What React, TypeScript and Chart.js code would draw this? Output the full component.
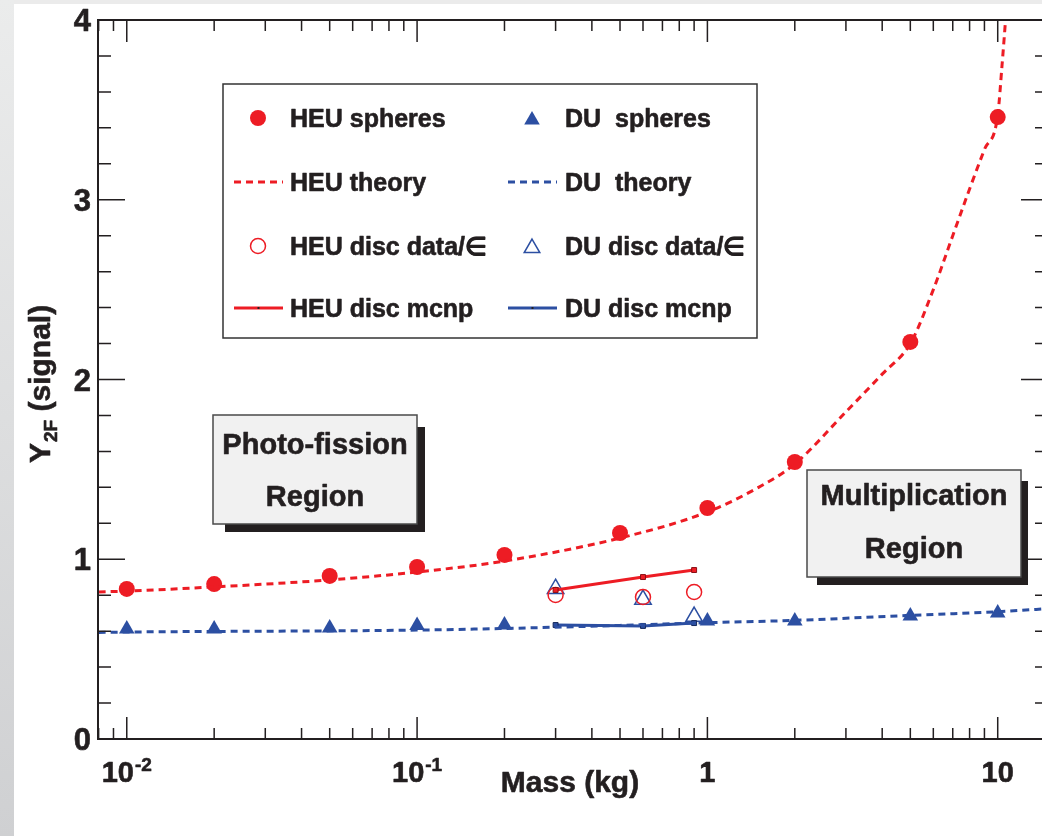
import React, { useEffect, useRef } from "react";
import { Chart, registerables } from "chart.js";

Chart.register(...registerables);

const RED = "#ed1c24";
const BLUE = "#2c4fa2";
const INK = "#231f20";
const FONT = '"Liberation Sans", Arial, Helvetica, sans-serif';

// ---- data ----
const heuSphereMass = [0.01, 0.02, 0.05, 0.1, 0.2, 0.5, 1, 2, 5, 10];
const heuSphereY = [0.835, 0.862, 0.907, 0.957, 1.024, 1.146, 1.285, 1.541, 2.209, 3.46];
const duSphereMass = [0.01, 0.02, 0.05, 0.1, 0.2, 1, 2, 5, 10];
const duSphereY = [0.612, 0.612, 0.618, 0.632, 0.634, 0.656, 0.656, 0.684, 0.701];
const heuTheoryMass = [0.008, 0.01, 0.02, 0.05, 0.1, 0.2, 0.5, 1, 1.5, 2, 3, 4, 5, 6, 7, 8, 9, 10, 10.35, 10.7];
const heuTheoryY = [0.818, 0.823, 0.846, 0.885, 0.929, 0.99, 1.118, 1.263, 1.4, 1.53, 1.82, 2.03, 2.2, 2.5, 2.8, 3.06, 3.28, 3.47, 3.75, 4.05];
const duTheoryMass = [0.008, 0.01, 0.1, 0.2, 0.5, 1, 2, 5, 10, 14.9];
const duTheoryY = [0.593, 0.595, 0.606, 0.615, 0.632, 0.647, 0.66, 0.688, 0.708, 0.725];
const discMass = [0.3, 0.6, 0.9];
const heuDiscDataY = [0.801, 0.79, 0.818];
const duDiscDataY = [0.836, 0.776, 0.681];
const heuDiscMcnpY = [0.829, 0.901, 0.94];
const duDiscMcnpY = [0.634, 0.629, 0.645];

const X_MIN = 0.00796;
const X_MAX = 14.9;
const Y_MIN = 0;
const Y_MAX = 4;
const yTickValues = [0, 1, 2, 3, 4];
const yTickLabels = ["0", "1", "2", "3", "4"];
const xTickValues = [0.01, 0.1, 1, 10];
const xTickBases = ["10", "10", "1", "10"];
const xTickExps = ["-2", "-1", "", ""];
const xTitle = "Mass (kg)";
const yTitleMain = "Y";
const yTitleSub = "2F";
const yTitleRest = " (signal)";
const legendCol1 = ["HEU spheres", "HEU theory", "HEU disc data/\u2208", "HEU disc mcnp"];
const legendCol2 = ["DU  spheres", "DU  theory", "DU disc data/\u2208", "DU disc mcnp"];
const regionLeft = ["Photo-fission", "Region"];
const regionRight = ["Multiplication", "Region"];

const pts = (xs: number[], ys: number[]) => xs.map((x, i) => ({ x, y: ys[i] }));

// bold text with a hairline stroke to mimic the heavier original face
function boldText(ctx: CanvasRenderingContext2D, t: string, x: number, y: number) {
  ctx.save();
  ctx.setLineDash([]);
  ctx.lineWidth = 0.6;
  ctx.strokeStyle = ctx.fillStyle as string;
  ctx.lineJoin = "round";
  ctx.strokeText(t, x, y);
  ctx.fillText(t, x, y);
  ctx.restore();
}

function triPath(ctx: CanvasRenderingContext2D, x: number, y: number, r: number) {
  const h = r * Math.sin(Math.PI / 3);
  ctx.beginPath();
  ctx.moveTo(x, y - r);
  ctx.lineTo(x + h, y + r / 2);
  ctx.lineTo(x - h, y + r / 2);
  ctx.closePath();
}

function drawRegion(
  ctx: CanvasRenderingContext2D,
  x1: number, y1: number, x2: number, y2: number,
  sh: [number, number, number, number],
  lines: string[], baselines: number[]
) {
  ctx.fillStyle = INK;
  ctx.fillRect(x1 + sh[0], y1 + sh[1], x2 + sh[2] - (x1 + sh[0]), y2 + sh[3] - (y1 + sh[1]));
  ctx.fillStyle = "#f1f1f1";
  ctx.fillRect(x1, y1, x2 - x1, y2 - y1);
  ctx.strokeStyle = "#4a4a4a";
  ctx.lineWidth = 1.5;
  ctx.setLineDash([]);
  ctx.strokeRect(x1, y1, x2 - x1, y2 - y1);
  ctx.fillStyle = INK;
  ctx.font = `bold 29px ${FONT}`;
  ctx.textAlign = "center";
  ctx.textBaseline = "alphabetic";
  const cx = (x1 + x2) / 2;
  lines.forEach((t, i) => boldText(ctx, t, cx, baselines[i]));
}

const overlay = {
  id: "overlay",
  beforeDraw(chart: any) {
    const { ctx, width, height } = chart;
    ctx.save();
    ctx.fillStyle = "#ffffff";
    ctx.fillRect(0, 0, width, height);
    const g = ctx.createLinearGradient(0, 0, 0, height);
    g.addColorStop(0, "#ebecec");
    g.addColorStop(1, "#cfd0d2");
    ctx.fillStyle = g;
    ctx.fillRect(0, 0, 14, height);
    ctx.fillStyle = "#ebebeb";
    ctx.fillRect(14, 0, width, 4);
    ctx.restore();
  },
  afterDatasetsDraw(chart: any) {
    const { ctx } = chart;
    const { left, top, right, bottom } = chart.chartArea;
    const xs = chart.scales.x;
    const ys = chart.scales.y;
    ctx.save();
    ctx.setLineDash([]);
    ctx.strokeStyle = INK;
    ctx.lineWidth = 2;
    ctx.strokeRect(left, top, right - left, bottom - top);

    // y ticks (left + right)
    ctx.lineWidth = 1.5;
    ctx.beginPath();
    for (let i = 0; i <= 20; i++) {
      const v = Y_MIN + i * 0.2;
      const p = ys.getPixelForValue(v);
      const len = i % 5 === 0 ? 27 : 13;
      ctx.moveTo(left, p);
      ctx.lineTo(left + len, p);
      ctx.moveTo(right, p);
      ctx.lineTo(right - len, p);
    }
    // x ticks (bottom + top)
    for (let d = -3; d <= 1; d++) {
      for (let k = 1; k <= 9; k++) {
        const v = k * Math.pow(10, d);
        if (v < X_MIN || v > X_MAX) continue;
        const p = xs.getPixelForValue(v);
        const len = k === 1 ? 22 : 11;
        ctx.moveTo(p, bottom);
        ctx.lineTo(p, bottom - len);
        ctx.moveTo(p, top);
        ctx.lineTo(p, top + len);
      }
    }
    ctx.stroke();

    // y tick labels
    ctx.fillStyle = INK;
    ctx.font = `bold 31px ${FONT}`;
    ctx.textAlign = "right";
    ctx.textBaseline = "alphabetic";
    yTickValues.forEach((v, i) => {
      const p = ys.getPixelForValue(v);
      boldText(ctx, yTickLabels[i], 91, p + 11);
    });

    // x tick labels
    xTickValues.forEach((v, i) => {
      const p = xs.getPixelForValue(v);
      ctx.font = `bold 29px ${FONT}`;
      const wb = ctx.measureText(xTickBases[i]).width;
      ctx.font = `bold 19px ${FONT}`;
      const we = xTickExps[i] ? ctx.measureText(xTickExps[i]).width + 1 : 0;
      const sx = p - (wb + we) / 2;
      ctx.textAlign = "left";
      ctx.font = `bold 29px ${FONT}`;
      boldText(ctx, xTickBases[i], sx, 782);
      if (xTickExps[i]) {
        ctx.font = `bold 19px ${FONT}`;
        boldText(ctx, xTickExps[i], sx + wb + 1, 771);
      }
    });

    // x title
    ctx.font = `bold 30px ${FONT}`;
    ctx.textAlign = "center";
    boldText(ctx, xTitle, 570, 792);

    // y title
    ctx.save();
    ctx.translate(50, 463);
    ctx.rotate(-Math.PI / 2);
    ctx.textAlign = "left";
    ctx.font = `bold 30px ${FONT}`;
    boldText(ctx, yTitleMain, 0, 0);
    const w1 = ctx.measureText(yTitleMain).width;
    ctx.font = `bold 19px ${FONT}`;
    boldText(ctx, yTitleSub, w1 + 1, 7);
    const w2 = ctx.measureText(yTitleSub).width;
    ctx.font = `bold 30px ${FONT}`;
    boldText(ctx, yTitleRest, w1 + 1 + w2, 0);
    ctx.restore();

    // legend box
    ctx.strokeStyle = "#333333";
    ctx.lineWidth = 1.5;
    ctx.strokeRect(223, 84, 534, 254);
    const rows = [118, 182, 246, 308];
    const cols = [
      { sx: 258, l1: 234, l2: 283, tx: 290, color: RED, labels: legendCol1, tri: false },
      { sx: 532, l1: 508, l2: 557, tx: 565, color: BLUE, labels: legendCol2, tri: true },
    ];
    cols.forEach((c) => {
      ctx.fillStyle = c.color;
      if (c.tri) {
        triPath(ctx, c.sx, rows[0] + 2, 9);
        ctx.fill();
      } else {
        ctx.beginPath();
        ctx.arc(c.sx, rows[0], 8, 0, Math.PI * 2);
        ctx.fill();
      }
      ctx.strokeStyle = c.color;
      ctx.lineWidth = 3;
      ctx.setLineDash([7, 5]);
      ctx.beginPath();
      ctx.moveTo(c.l1, rows[1]);
      ctx.lineTo(c.l2, rows[1]);
      ctx.stroke();
      ctx.setLineDash([]);
      ctx.lineWidth = 1.5;
      if (c.tri) {
        triPath(ctx, c.sx, rows[2] + 2, 9);
        ctx.stroke();
      } else {
        ctx.beginPath();
        ctx.arc(c.sx, rows[2], 7.5, 0, Math.PI * 2);
        ctx.stroke();
      }
      ctx.lineWidth = 3;
      ctx.beginPath();
      ctx.moveTo(c.l1, rows[3]);
      ctx.lineTo(c.l2, rows[3]);
      ctx.stroke();
      ctx.fillStyle = "#222";
      ctx.fillRect((c.l1 + c.l2) / 2 - 1, rows[3] - 1, 2, 2);
      ctx.fillStyle = INK;
      ctx.font = `bold 25px ${FONT}`;
      ctx.textAlign = "left";
      ctx.textBaseline = "alphabetic";
      c.labels.forEach((t, i) => boldText(ctx, t, c.tx, rows[i] + 9));
    });

    drawRegion(ctx, 213, 415, 417, 524, [12, 12, 8, 8], regionLeft, [454, 506]);
    drawRegion(ctx, 807, 470, 1021, 577, [10, 11, 7, 8], regionRight, [505, 558]);

    ctx.restore();
  },
};

export default function App() {
  const ref = useRef<HTMLCanvasElement | null>(null);
  useEffect(() => {
    if (!ref.current) return;
    const chart = new Chart(ref.current, {
      type: "scatter",
      data: {
        datasets: [
          {
            label: "HEU theory",
            data: pts(heuTheoryMass, heuTheoryY),
            showLine: true,
            borderColor: RED,
            borderWidth: 3,
            borderDash: [7, 5],
            pointRadius: 0,
            cubicInterpolationMode: "monotone",
          },
          {
            label: "DU theory",
            data: pts(duTheoryMass, duTheoryY),
            showLine: true,
            borderColor: BLUE,
            borderWidth: 3,
            borderDash: [7, 5],
            pointRadius: 0,
            cubicInterpolationMode: "monotone",
          },
          {
            label: "HEU disc mcnp",
            data: pts(discMass, heuDiscMcnpY),
            showLine: true,
            borderColor: RED,
            borderWidth: 3,
            pointStyle: "rect",
            pointRadius: 3.5,
            pointBackgroundColor: RED,
            pointBorderColor: "#8a1015",
            pointBorderWidth: 1,
          },
          {
            label: "DU disc mcnp",
            data: pts(discMass, duDiscMcnpY),
            showLine: true,
            borderColor: BLUE,
            borderWidth: 3,
            pointStyle: "rect",
            pointRadius: 3.5,
            pointBackgroundColor: BLUE,
            pointBorderColor: "#15285a",
            pointBorderWidth: 1,
          },
          {
            label: "HEU spheres",
            data: pts(heuSphereMass, heuSphereY),
            pointStyle: "circle",
            pointRadius: 8,
            pointBackgroundColor: RED,
            pointBorderColor: RED,
            pointBorderWidth: 0,
          },
          {
            label: "DU spheres",
            data: pts(duSphereMass, duSphereY),
            pointStyle: "triangle",
            pointRadius: 9,
            pointBackgroundColor: BLUE,
            pointBorderColor: BLUE,
            pointBorderWidth: 0,
          },
          {
            label: "HEU disc data",
            data: pts(discMass, heuDiscDataY),
            pointStyle: "circle",
            pointRadius: 7.5,
            pointBackgroundColor: "rgba(0,0,0,0)",
            pointBorderColor: RED,
            pointBorderWidth: 1.5,
          },
          {
            label: "DU disc data",
            data: pts(discMass, duDiscDataY),
            pointStyle: "triangle",
            pointRadius: 9.5,
            pointBackgroundColor: "rgba(0,0,0,0)",
            pointBorderColor: BLUE,
            pointBorderWidth: 1.5,
          },
        ],
      },
      options: {
        responsive: false,
        maintainAspectRatio: false,
        devicePixelRatio: 1,
        animation: false,
        events: [],
        layout: { padding: { left: 98, top: 20, right: 12, bottom: 97 } },
        plugins: { legend: { display: false }, tooltip: { enabled: false }, title: { display: false } },
        scales: {
          x: { type: "logarithmic", min: X_MIN, max: X_MAX, display: false },
          y: { type: "linear", min: Y_MIN, max: Y_MAX, display: false },
        },
      },
      plugins: [overlay],
    } as any);
    return () => chart.destroy();
  }, []);

  return (
    <div
      style={{
        position: "fixed",
        left: 0,
        top: 0,
        width: 1042,
        height: 836,
        overflow: "hidden",
        background: "#fff",
      }}
    >
      <canvas
        ref={ref}
        width={1060}
        height={836}
        style={{ display: "block", width: 1060, height: 836 }}
      />
    </div>
  );
}
